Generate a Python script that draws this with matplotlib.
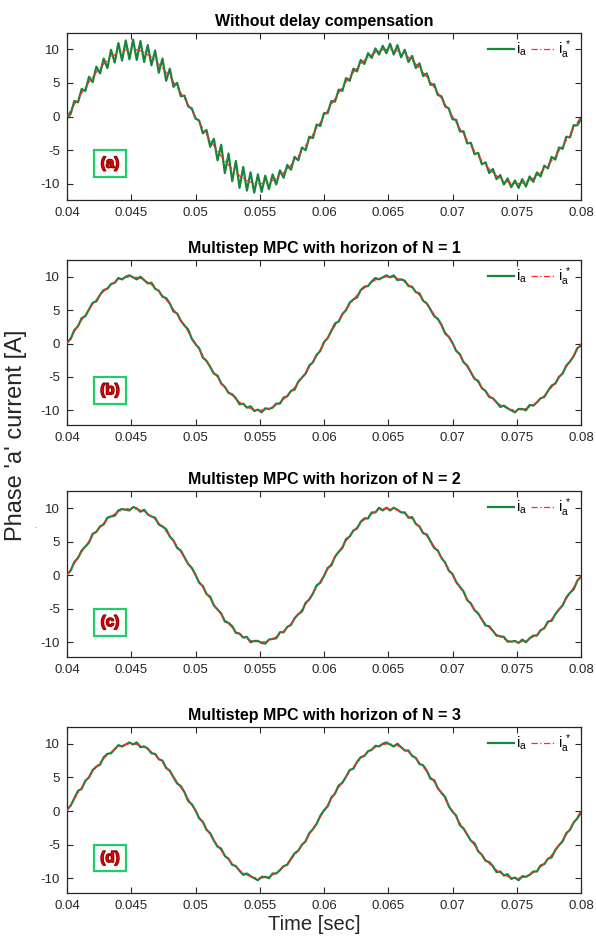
import numpy as np
import matplotlib
matplotlib.use('Agg')
import matplotlib.pyplot as plt
import matplotlib.patheffects as pe

plt.rcParams['font.family'] = ['Liberation Sans', 'DejaVu Sans']
plt.rcParams['mathtext.fontset'] = 'custom'
plt.rcParams['mathtext.rm'] = 'Liberation Sans'
plt.rcParams['mathtext.it'] = 'Liberation Sans'
plt.rcParams['axes.unicode_minus'] = False

titles = ['Without delay compensation',
          'Multistep MPC with horizon of N = 1',
          'Multistep MPC with horizon of N = 2',
          'Multistep MPC with horizon of N = 3']
panel_labels = ['(a)', '(b)', '(c)', '(d)']
x_ticks = [0.04, 0.045, 0.05, 0.055, 0.06, 0.065, 0.07, 0.075, 0.08]
x_tick_labels = ['0.04', '0.045', '0.05', '0.055', '0.06', '0.065', '0.07', '0.075', '0.08']
y_ticks = [-10, -5, 0, 5, 10]
t_start, t_end = 0.04, 0.08

# reference current i_a* (sampled every 0.5 ms)
i_ref = [0, 1.56, 3.09, 4.54, 5.88, 7.07, 8.09, 8.91, 9.51, 9.88,
         10, 9.88, 9.51, 8.91, 8.09, 7.07, 5.88, 4.54, 3.09, 1.56,
         0, -1.56, -3.09, -4.54, -5.88, -7.07, -8.09, -8.91, -9.51, -9.88,
         -10, -9.88, -9.51, -8.91, -8.09, -7.07, -5.88, -4.54, -3.09, -1.56,
         0, 1.56, 3.09, 4.54, 5.88, 7.07, 8.09, 8.91, 9.51, 9.88,
         10, 9.88, 9.51, 8.91, 8.09, 7.07, 5.88, 4.54, 3.09, 1.56,
         0, -1.56, -3.09, -4.54, -5.88, -7.07, -8.09, -8.91, -9.51, -9.88,
         -10, -9.88, -9.51, -8.91, -8.09, -7.07, -5.88, -4.54, -3.09, -1.56,
         0]

# measured phase current i_a, (a) without delay compensation
i_a_none = [-0.3, 0.4, 2.3, 2.1, 4.1, 3.8, 5.9, 5.1, 7.4, 6.4,
            8.6, 7.2, 9.9, 8.0, 10.9, 8.3, 11.3, 8.5, 11.4, 8.4,
            11.2, 8.1, 10.6, 7.6, 9.8, 6.5, 8.6, 5.3, 7.1, 4.4,
            5.0, 3.0, 3.1, 1.5, 1.2, -0.3, -0.6, -2.5, -2.0, -4.5,
            -3.3, -6.5, -4.2, -8.4, -5.5, -9.6, -6.6, -10.6, -7.5, -11.0,
            -8.3, -11.3, -8.6, -11.2, -8.8, -10.8, -8.6, -10.1, -8.0, -9.1,
            -7.2, -7.9, -6.0, -6.5, -4.6, -5.0, -3.0, -3.2, -1.2, -1.4,
            0.5, 0.5, 2.3, 2.2, 4.0, 3.8, 5.7, 5.3, 7.1, 6.7,
            8.4, 7.8, 9.4, 8.7, 10.1, 9.2, 10.5, 9.4, 10.8, 9.2,
            10.6, 8.8, 9.9, 8.1, 9.0, 7.2, 7.9, 6.0, 6.4, 4.7,
            4.8, 3.2, 3.0, 1.5, 1.2, -0.4, -0.5, -2.2, -2.2, -4.0,
            -3.9, -5.6, -5.4, -7.1, -6.8, -8.4, -7.8, -9.3, -8.7, -10.1,
            -9.2, -10.5, -9.5, -10.6, -9.3, -10.4, -8.9, -9.7, -8.3, -8.9,
            -7.3, -7.7, -6.0, -6.4, -4.6, -4.8, -3.0, -3.1, -1.3, -1.3,
            -0.4]

# (b) multistep MPC, N = 1
i_a_n1 = [0.1, 0.7, 2.0, 2.6, 3.8, 4.1, 5.1, 6.1, 6.3, 7.3,
          8.0, 8.2, 8.9, 9.1, 9.8, 9.6, 10.0, 10.2, 9.9, 9.6,
          10.0, 9.5, 9.0, 9.1, 8.2, 7.9, 7.0, 6.8, 6.0, 4.8,
          4.5, 3.4, 2.7, 2.1, 0.7, -0.1, -0.7, -2.1, -2.6, -3.5,
          -4.5, -4.8, -6.0, -6.5, -7.4, -7.6, -8.2, -9.1, -9.0, -9.6,
          -9.4, -10.1, -9.9, -10.3, -9.7, -9.8, -9.6, -9.0, -9.0, -8.1,
          -7.9, -7.1, -6.9, -5.7, -5.1, -4.5, -3.3, -2.8, -1.7, -1.1,
          0.2, 0.8, 1.9, 3.0, 3.3, 4.4, 5.0, 6.1, 6.6, 6.9,
          8.0, 8.5, 8.6, 9.3, 9.8, 9.6, 9.9, 10.2, 9.9, 10.2,
          9.5, 9.6, 9.4, 8.6, 8.5, 7.7, 7.5, 6.4, 6.0, 5.1,
          4.1, 3.7, 2.8, 1.5, 1.0, 0.1, -1.1, -1.6, -2.8, -3.3,
          -4.3, -5.3, -5.6, -6.7, -7.1, -8.0, -8.2, -8.8, -9.5, -9.3,
          -9.7, -10.0, -10.3, -9.8, -9.8, -10.0, -9.2, -9.3, -8.8, -8.2,
          -8.0, -7.1, -6.3, -6.0, -5.0, -4.5, -3.3, -2.7, -1.9, -0.7,
          -0.3]

# (c) multistep MPC, N = 2
i_a_n2 = [0.1, 0.7, 2.0, 2.6, 3.7, 4.3, 4.9, 6.2, 6.5, 7.3,
          7.6, 8.6, 8.8, 8.9, 9.7, 9.9, 9.8, 9.7, 10.2, 10.0,
          9.5, 9.8, 9.1, 8.8, 8.6, 7.6, 7.3, 6.9, 5.8, 5.2,
          4.1, 3.7, 2.7, 1.7, 1.1, 0.1, -1.1, -1.6, -2.8, -3.2,
          -4.5, -5.1, -5.7, -6.9, -7.1, -7.6, -8.6, -8.7, -9.3, -9.2,
          -10.0, -9.8, -9.8, -10.1, -10.2, -9.6, -9.5, -9.4, -8.5, -8.5,
          -7.7, -7.4, -6.4, -5.8, -5.4, -4.1, -3.6, -2.7, -1.5, -1.1,
          -0.1, 1.1, 1.5, 2.8, 3.5, 4.1, 5.4, 5.8, 6.7, 7.0,
          8.0, 8.5, 8.5, 9.4, 9.4, 10.1, 9.7, 10.1, 9.7, 10.1,
          9.8, 9.4, 9.4, 8.6, 8.7, 7.7, 7.3, 6.3, 6.1, 5.1,
          4.1, 3.7, 2.6, 1.9, 0.7, 0.2, -1.0, -1.7, -2.4, -3.7,
          -4.2, -5.2, -5.7, -6.6, -7.5, -7.6, -8.3, -9.0, -9.1, -9.2,
          -9.9, -9.9, -9.8, -10.1, -9.6, -10.0, -9.4, -9.0, -9.0, -8.2,
          -7.9, -6.9, -6.8, -5.8, -5.1, -4.5, -3.3, -2.6, -2.1, -0.8,
          -0.2]

# (d) multistep MPC, N = 3
i_a_n3 = [0.2, 0.8, 1.9, 3.0, 3.3, 4.5, 5.0, 6.1, 6.6, 6.9,
          8.0, 8.5, 8.6, 9.2, 9.8, 9.6, 9.9, 10.2, 9.9, 10.2,
          9.5, 9.6, 9.3, 8.6, 8.5, 7.7, 7.5, 6.4, 6.0, 5.0,
          4.1, 3.7, 2.8, 1.5, 1.0, 0.1, -1.1, -1.6, -2.8, -3.3,
          -4.4, -5.3, -5.6, -6.7, -7.1, -8.0, -8.2, -8.9, -9.5, -9.3,
          -9.7, -10.0, -10.3, -9.8, -9.8, -10.0, -9.3, -9.3, -8.8, -8.2,
          -8.0, -7.1, -6.3, -5.9, -5.0, -4.5, -3.3, -2.7, -1.9, -0.7,
          0.1, 0.7, 2.0, 2.6, 3.8, 4.2, 5.1, 6.1, 6.3, 7.3,
          8.0, 8.2, 8.9, 9.1, 9.7, 9.6, 10.0, 10.2, 9.9, 9.6,
          10.0, 9.5, 9.0, 9.0, 8.2, 7.9, 7.0, 6.8, 6.0, 4.8,
          4.6, 3.4, 2.7, 2.1, 0.7, -0.1, -0.7, -2.1, -2.6, -3.5,
          -4.4, -4.8, -6.0, -6.5, -7.4, -7.6, -8.2, -9.1, -9.0, -9.6,
          -9.4, -10.1, -9.9, -10.3, -9.7, -9.8, -9.5, -9.0, -9.0, -8.1,
          -7.9, -7.1, -6.9, -5.8, -5.1, -4.5, -3.3, -2.8, -1.7, -1.1,
          -0.2]

measured = [i_a_none, i_a_n1, i_a_n2, i_a_n3]
y_limits = [(-12.4, 12.4), (-12.2, 12.5), (-12.2, 12.6), (-12.2, 12.5)]

fig = plt.figure(figsize=(5.96, 9.36), dpi=100)
W, H = 596.0, 936.0
boxes = [(33, 200), (260, 425), (491, 657), (727, 893)]
left_px, right_px = 67, 581

green = '#17853b'
red = '#ff2a2a'
dark = '#262626'

for idx, (top, bot) in enumerate(boxes):
    ax = fig.add_axes([left_px / W, (H - bot) / H, (right_px - left_px) / W, (bot - top) / H])
    t_ref = np.linspace(t_start, t_end, len(i_ref))
    t_meas = np.linspace(t_start, t_end, len(measured[idx]))
    ax.plot(t_meas, measured[idx], color=green, lw=1.6, label=r'$\mathregular{i_a}$', zorder=2)
    ax.plot(t_ref, i_ref, color=red, lw=0.9, ls=(0, (5, 2, 1, 2)),
            label=r'$\mathregular{i_a^{\ *}}$', zorder=3)
    ax.set_xlim(t_start, t_end)
    ax.set_ylim(*y_limits[idx])
    ax.set_xticks(x_ticks)
    ax.set_xticklabels(x_tick_labels)
    ax.set_yticks(y_ticks)
    ax.tick_params(direction='in', top=True, right=True, length=4, width=0.8,
                   labelsize=9.5, colors=dark, pad=5)
    for s in ax.spines.values():
        s.set_color(dark)
        s.set_linewidth(0.9)
    ax.set_title(titles[idx], fontsize=11.5, fontweight='bold', color='black', pad=5)
    ax.legend(loc='upper right', ncol=2, frameon=False, fontsize=10.5,
              handlelength=1.75, handletextpad=0.15, columnspacing=0.25,
              borderaxespad=0.2, bbox_to_anchor=(1.0, 1.02))
    txt = ax.text(0.04335, -7.0, panel_labels[idx], fontsize=11, fontweight='bold',
                  color='#e00000', ha='center', va='center', zorder=5,
                  bbox=dict(boxstyle='square,pad=0.42', facecolor='white',
                            edgecolor='#22cc66', linewidth=1.6))
    txt.set_path_effects([pe.withStroke(linewidth=1.0, foreground='#700000')])

fig.text(314 / W, 1 - 924 / H, 'Time [sec]', fontsize=14.5, color=dark,
         ha='center', va='center')
fig.text(16 / W, 1 - 435 / H, "Phase 'a' current [A]", rotation=90, fontsize=17,
         color=dark, ha='center', va='center')
fig.text(35 / W, 1 - 527 / H, '.', fontsize=6, color='#666666', ha='center', va='center')

fig.savefig('out.png', dpi=100)
